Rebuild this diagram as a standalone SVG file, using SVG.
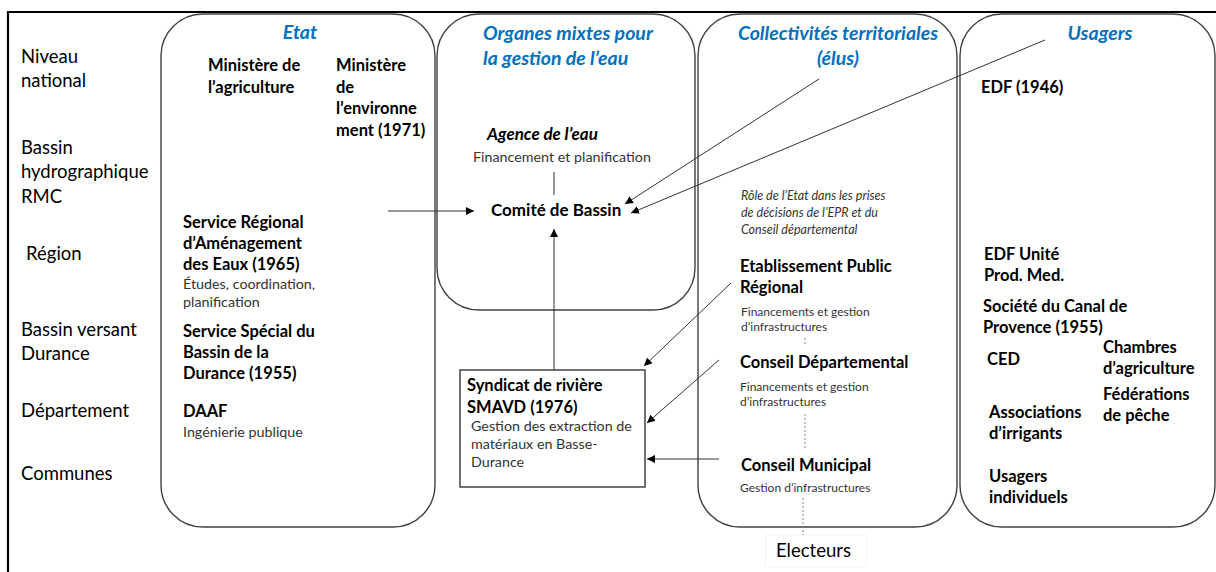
<svg xmlns="http://www.w3.org/2000/svg" width="1216" height="572" viewBox="0 0 1216 572">
<defs>
<marker id="ah" viewBox="0 0 10 10" refX="10" refY="5" markerWidth="8" markerHeight="8" markerUnits="userSpaceOnUse" orient="auto">
<path d="M0,0 L10,5 L0,10 z" fill="#000"/>
</marker>
<style>
text{font-family:Lato,"Liberation Sans",sans-serif;fill:#000}
.lab{font-size:18.5px}
.title{font-size:19.5px;font-weight:bold;font-style:italic;fill:#0070C0}
.b{font-size:16.5px;font-weight:bold}
.m{font-size:17px;font-weight:bold}
.s{font-size:14.3px;fill:#333}
.xs{font-size:12px;fill:#333}
.it{font-size:12.5px;font-style:italic;fill:#333}
.box{fill:none;stroke:#404040;stroke-width:1.4}
.con{stroke:#333;stroke-width:1;fill:none}
.dot{stroke:#888;stroke-width:1;stroke-dasharray:2 2;fill:none}
</style>
</defs>
<rect width="1216" height="572" fill="#fff"/>
<g id="frame">
<path d="M8,572 L8,12 L1216,12" fill="none" stroke="#000" stroke-width="2.2"/>
</g>
<g id="levels">
<text class="lab" x="21" y="63">Niveau</text>
<text class="lab" x="21" y="87">national</text>
<text class="lab" x="21" y="154">Bassin</text>
<text class="lab" x="21" y="178">hydrographique</text>
<text class="lab" x="21" y="203">RMC</text>
<text class="lab" x="26" y="260">Région</text>
<text class="lab" x="21" y="336">Bassin versant</text>
<text class="lab" x="21" y="360">Durance</text>
<text class="lab" x="21" y="417">Département</text>
<text class="lab" x="21" y="480">Communes</text>
</g>
<g id="etat">
<rect class="box" x="161" y="14" width="274" height="513" rx="42"/>
<text class="title" x="300" y="39" text-anchor="middle">Etat</text>
<text class="b" x="208" y="71">Ministère de</text>
<text class="b" x="208" y="93">l’agriculture</text>
<text class="b" x="336" y="71">Ministère</text>
<text class="b" x="336" y="93">de</text>
<text class="b" x="336" y="114">l’environne</text>
<text class="b" x="336" y="136">ment (1971)</text>
<text class="b" x="183" y="228">Service Régional</text>
<text class="b" x="183" y="249">d’Aménagement</text>
<text class="b" x="183" y="270">des Eaux (1965)</text>
<text class="s" x="183" y="289">Études, coordination,</text>
<text class="s" x="183" y="307">planification</text>
<text class="b" x="183" y="337">Service Spécial du</text>
<text class="b" x="183" y="358">Bassin de la</text>
<text class="b" x="183" y="379">Durance (1955)</text>
<text class="b" x="183" y="417">DAAF</text>
<text class="s" x="183" y="437">Ingénierie publique</text>
</g>
<g id="organes">
<rect class="box" x="437" y="14" width="258" height="296" rx="42"/>
<text class="title" x="483" y="40">Organes mixtes pour</text>
<text class="title" x="483" y="65">la gestion de l’eau</text>
<text class="m" x="487" y="140" font-style="italic">Agence de l’eau</text>
<text class="s" x="473" y="162">Financement et planification</text>
<text class="m" x="491" y="216">Comité de Bassin</text>
</g>
<g id="syndicat">
<rect x="460" y="370" width="185" height="117" fill="#fff" stroke="#333" stroke-width="1.4"/>
<text class="b" x="467" y="391">Syndicat de rivière</text>
<text class="b" x="467" y="413">SMAVD (1976)</text>
<text class="s" x="471" y="431">Gestion des extraction de</text>
<text class="s" x="471" y="449">matériaux en Basse-</text>
<text class="s" x="471" y="467">Durance</text>
</g>
<g id="collectivites">
<rect class="box" x="698" y="14" width="259" height="513" rx="42"/>
<text class="title" x="838" y="40" text-anchor="middle">Collectivités territoriales</text>
<text class="title" x="838" y="65" text-anchor="middle">(élus)</text>
<text class="it" x="741" y="200">Rôle de l’Etat dans les prises</text>
<text class="it" x="741" y="217">de décisions de l’EPR et du</text>
<text class="it" x="741" y="234">Conseil départemental</text>
<text class="b" x="740" y="272">Etablissement Public</text>
<text class="b" x="740" y="293">Régional</text>
<text class="xs" x="741" y="316">Financements et gestion</text>
<text class="xs" x="741" y="331">d’infrastructures</text>
<text class="b" x="740" y="368">Conseil Départemental</text>
<text class="xs" x="740" y="391">Financements et gestion</text>
<text class="xs" x="740" y="406">d’infrastructures</text>
<text class="b" x="741" y="471">Conseil Municipal</text>
<text class="xs" x="740" y="492">Gestion d’infrastructures</text>
</g>
<g id="electeurs">
<rect x="766" y="535" width="100" height="32" fill="none" stroke="#f2f2f2" stroke-width="1"/>
<text class="lab" x="776" y="557">Electeurs</text>
</g>
<g id="usagers">
<rect class="box" x="960" y="14" width="255" height="513" rx="42"/>
<text class="title" x="1100" y="40" text-anchor="middle">Usagers</text>
<text class="b" x="981" y="93">EDF (1946)</text>
<text class="b" x="984" y="260">EDF Unité</text>
<text class="b" x="984" y="281">Prod. Med.</text>
<text class="b" x="983" y="312">Société du Canal de</text>
<text class="b" x="983" y="333">Provence (1955)</text>
<text class="b" x="987" y="365">CED</text>
<text class="b" x="1103" y="353">Chambres</text>
<text class="b" x="1103" y="374">d’agriculture</text>
<text class="b" x="1103" y="400">Fédérations</text>
<text class="b" x="1103" y="421">de pêche</text>
<text class="b" x="989" y="418">Associations</text>
<text class="b" x="989" y="439">d’irrigants</text>
<text class="b" x="989" y="482">Usagers</text>
<text class="b" x="989" y="503">individuels</text>
</g>
<g id="connectors">
<path class="con" d="M388,211 L474,211" marker-end="url(#ah)"/>
<path class="con" d="M554,172 L554,195"/>
<path class="con" d="M554,370 L554,229" marker-end="url(#ah)"/>
<path class="con" d="M819,79 L625,204" marker-end="url(#ah)"/>
<path class="con" d="M1045,40 L631,213" marker-end="url(#ah)"/>
<path class="con" d="M731,283 L644,366" marker-end="url(#ah)"/>
<path class="con" d="M719,360 L647,423" marker-end="url(#ah)"/>
<path class="con" d="M719,459 L647,459" marker-end="url(#ah)"/>
<path class="dot" d="M805,338 L805,346"/>
<path class="dot" d="M805,414 L805,450"/>
<path class="dot" d="M803,498 L803,535"/>
</g>
</svg>
